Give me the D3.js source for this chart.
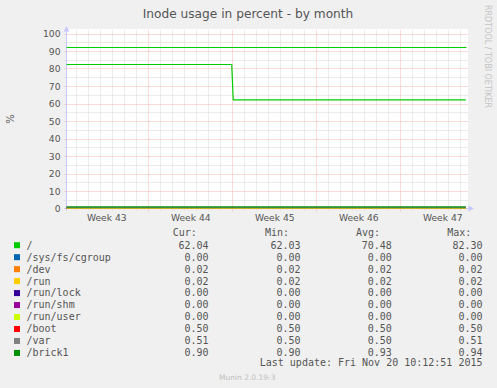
<!DOCTYPE html>
<html><head><meta charset="utf-8">
<script src="https://cdn.jsdelivr.net/npm/d3@7"></script>
<style>
html,body{margin:0;padding:0;background:#f0f0f0;}
svg{display:block;}
</style></head>
<body>
<svg id="chart" width="497" height="388"></svg>
<script>
// ---------- data ----------
const title = "Inode usage in percent - by month";
const yLabel = "%";
const timeStart = Date.UTC(2015, 9, 19, 4, 23);          // left edge of graph
const timeEnd = timeStart + 800 * 3600 * 1000;            // munin month window (800h)
const yTicks = [0, 10, 20, 30, 40, 50, 60, 70, 80, 90, 100];
const weekLabels = ["Week 43", "Week 44", "Week 45", "Week 46", "Week 47"];
const warningLevel = 92;

const seriesNames = ["/", "/sys/fs/cgroup", "/dev", "/run", "/run/lock", "/run/shm", "/run/user", "/boot", "/var", "/brick1"];
const seriesColors = ["#00CC00", "#0066B3", "#FF8000", "#FFCC00", "#330099", "#990099", "#CCFF00", "#FF0000", "#808080", "#008F00"];
const curValues = ["62.04", "0.00", "0.02", "0.02", "0.00", "0.00", "0.00", "0.50", "0.51", "0.90"];
const minValues = ["62.03", "0.00", "0.02", "0.02", "0.00", "0.00", "0.00", "0.50", "0.50", "0.90"];
const avgValues = ["70.48", "0.00", "0.02", "0.02", "0.00", "0.00", "0.00", "0.50", "0.50", "0.93"];
const maxValues = ["82.30", "0.00", "0.02", "0.02", "0.00", "0.00", "0.00", "0.50", "0.51", "0.94"];
const lastUpdate = "Last update: Fri Nov 20 10:12:51 2015";
const footer = "Munin 2.0.19-3";
const sideText = "RRDTOOL / TOBI OETIKER";

// time series (breakpoints): time as UTC strings, one value list per series
const rootTimes = ["2015-10-19T04:23Z", "2015-11-01T22:50Z", "2015-11-02T01:50Z", "2015-11-21T11:00Z"];
const rootValues = [82.30, 82.30, 62.04, 62.04];
const flatTimes = ["2015-10-19T04:23Z", "2015-11-21T11:00Z"];
const cgroupValues = [0.00, 0.00];
const devValues = [0.02, 0.02];
const runValues = [0.02, 0.02];
const runLockValues = [0.00, 0.00];
const runShmValues = [0.00, 0.00];
const runUserValues = [0.00, 0.00];
const bootValues = [0.50, 0.50];
const varValues = [0.50, 0.51];
const brick1Values = [0.93, 0.92];

const seriesData = [
  [rootTimes, rootValues], [flatTimes, cgroupValues], [flatTimes, devValues], [flatTimes, runValues],
  [flatTimes, runLockValues], [flatTimes, runShmValues], [flatTimes, runUserValues],
  [flatTimes, bootValues], [flatTimes, varValues], [flatTimes, brick1Values]
];

// ---------- drawing ----------
const svg = d3.select("#chart");
const L = 66.5, R = 466.5, B = 208.5, T = 33.5;
const x = d3.scaleUtc().domain([timeStart, timeEnd]).range([L, R]);
const y = d3.scaleLinear().domain([0, 100]).range([B, T]);
const textCol = "#555555";

svg.append("rect").attr("width", 497).attr("height", 388).attr("fill", "#f0f0f0");
svg.append("rect").attr("x", 67).attr("y", 29).attr("width", 401).attr("height", 180).attr("fill", "#ffffff");

// title
svg.append("text").attr("x", 248).attr("y", 18).attr("text-anchor", "middle")
  .attr("font-family", "DejaVu Sans").attr("font-size", 12.2).attr("fill", textCol).text(title);

// side text
svg.append("text").attr("transform", "translate(484.5,56.5) rotate(90)").attr("text-anchor", "middle")
  .attr("font-family", "DejaVu Sans").attr("font-size", 8).attr("fill", "#c4c4c4").text(sideText);

// y label
svg.append("text").attr("transform", "translate(14,119) rotate(-90)").attr("text-anchor", "middle")
  .attr("font-family", "DejaVu Sans").attr("font-size", 10).attr("fill", textCol).text(yLabel);

const grid = svg.append("g");
const minorCol = "#d6d6d6", majorCol = "#f6b4b4";
// minor horizontal grid every 5
const minorY = d3.range(5, 100, 10);
grid.selectAll(".hmin").data(minorY).enter().append("line")
  .attr("x1", L - 2).attr("x2", R + 1).attr("y1", d => Math.round(y(d)) + 0.5).attr("y2", d => Math.round(y(d)) + 0.5)
  .attr("stroke", minorCol).attr("stroke-dasharray", "1,1");
// minor vertical grid: daily
const days = d3.utcDay.range(new Date(timeStart), new Date(timeEnd));
const weeks = d3.utcMonday.range(new Date(timeStart), new Date(timeEnd));
const weekSet = new Set(weeks.map(d => +d));
grid.selectAll(".vmin").data(days.filter(d => !weekSet.has(+d))).enter().append("line")
  .attr("x1", d => Math.round(x(d)) + 0.5).attr("x2", d => Math.round(x(d)) + 0.5).attr("y1", B + 2).attr("y2", 30)
  .attr("stroke", minorCol).attr("stroke-dasharray", "1,1");
// major horizontal grid
grid.selectAll(".hmaj").data(yTicks.filter(d => d > 0)).enter().append("line")
  .attr("x1", L - 2).attr("x2", R + 1).attr("y1", d => Math.round(y(d)) + 0.5).attr("y2", d => Math.round(y(d)) + 0.5)
  .attr("stroke", majorCol).attr("stroke-dasharray", "1,1");
// major vertical grid (weeks)
grid.selectAll(".vmaj").data(weeks).enter().append("line")
  .attr("x1", d => Math.round(x(d)) + 0.5).attr("x2", d => Math.round(x(d)) + 0.5).attr("y1", B + 3).attr("y2", 30)
  .attr("stroke", majorCol).attr("stroke-dasharray", "1,1");

// y axis tick labels
const yAxis = d3.axisLeft(y).tickValues(yTicks).tickSize(0).tickPadding(0);
const ya = svg.append("g").attr("transform", "translate(60.5,0)").call(yAxis);
ya.select(".domain").remove();
ya.selectAll("text").attr("font-family", "DejaVu Sans").attr("font-size", 9.2).attr("fill", textCol).attr("dy", "0.35em");

// x axis week labels centered in each week
const weekCenters = [d3.utcDay.offset(weeks[0], -7)].concat(weeks).map(d => new Date(+d + 3.5 * 864e5));
const xAxis = d3.axisBottom(x).tickValues(weekCenters).tickSize(0).tickPadding(0)
  .tickFormat((d, i) => weekLabels[i]);
const xa = svg.append("g").attr("transform", "translate(0,214.5)").call(xAxis);
xa.select(".domain").remove();
xa.selectAll("text").attr("font-family", "DejaVu Sans").attr("font-size", 9.2).attr("fill", textCol);

// axes lines with arrows
const axisCol = "#c8c8ff";
svg.append("line").attr("x1", 66.5).attr("x2", 66.5).attr("y1", B + 2).attr("y2", 29).attr("stroke", axisCol);
svg.append("path").attr("d", "M63.5,31.5 L66.5,26 L69.5,31.5 Z").attr("fill", axisCol);
svg.append("line").attr("x1", 64).attr("x2", 470).attr("y1", B).attr("y2", B).attr("stroke", axisCol);
svg.append("path").attr("d", "M468.5,205.5 L474,208.5 L468.5,211.5 Z").attr("fill", axisCol);

// warning rule
svg.append("line").attr("x1", L).attr("x2", R).attr("y1", y(warningLevel)).attr("y2", y(warningLevel))
  .attr("stroke", seriesColors[0]).attr("stroke-width", 1.2);

// series lines
const line = d3.line().x(d => x(d[0])).y(d => y(d[1]));
seriesData.forEach((s, i) => {
  const pts = s[0].map((t, k) => [new Date(t), s[1][k]]);
  svg.append("path").attr("d", line(pts)).attr("fill", "none")
    .attr("stroke", seriesColors[i]).attr("stroke-width", 1.2);
});

// legend
const mono = "DejaVu Sans Mono";
const lg = svg.append("g").attr("font-family", mono).attr("font-size", 10).attr("fill", textCol);
const headers = [["Cur:", 172.7], ["Min:", 265], ["Avg:", 356], ["Max:", 447.3]];
headers.forEach(h => lg.append("text").attr("x", h[1]).attr("y", 236).text(h[0]));
const rowY = i => 248.6 + i * 11.97;
seriesNames.forEach((n, i) => {
  lg.append("rect").attr("x", 14).attr("y", rowY(i) - 6.4).attr("width", 6).attr("height", 6).attr("fill", seriesColors[i]);
  lg.append("text").attr("x", 26.5).attr("y", rowY(i)).text(n);
  lg.append("text").attr("x", 208.5).attr("y", rowY(i)).attr("text-anchor", "end").text(curValues[i]);
  lg.append("text").attr("x", 300.5).attr("y", rowY(i)).attr("text-anchor", "end").text(minValues[i]);
  lg.append("text").attr("x", 391.8).attr("y", rowY(i)).attr("text-anchor", "end").text(avgValues[i]);
  lg.append("text").attr("x", 482.5).attr("y", rowY(i)).attr("text-anchor", "end").text(maxValues[i]);
});
lg.append("text").attr("x", 482.5).attr("y", 366.3).attr("text-anchor", "end").text(lastUpdate);

svg.append("text").attr("x", 219).attr("y", 379.5).attr("font-family", "DejaVu Sans").attr("font-size", 7.5)
  .attr("fill", "#c0c0c0").text(footer);
</script>
</body></html>
